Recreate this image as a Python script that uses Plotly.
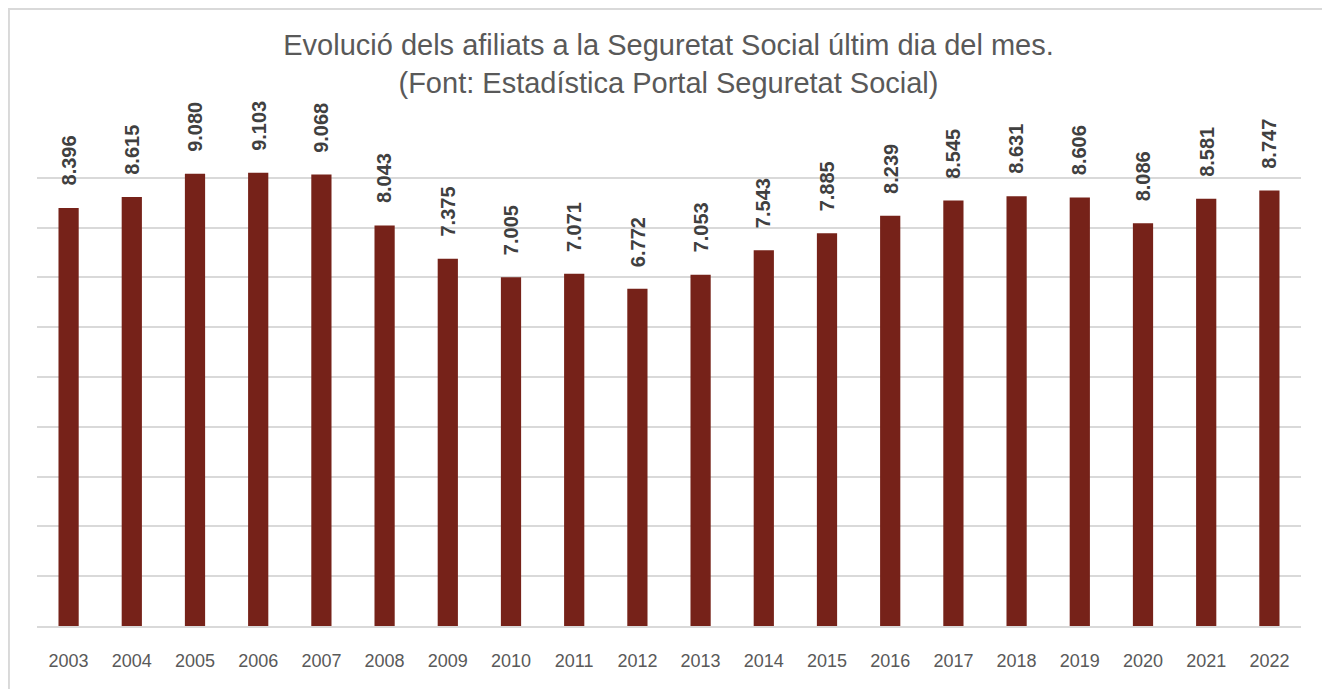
import plotly.graph_objects as go

# ---------------------------------------------------------------------------
# Afiliats a la Seguretat Social (milers)
# ---------------------------------------------------------------------------

anys = ["2003", "2004", "2005", "2006", "2007", "2008", "2009", "2010", "2011", "2012",
        "2013", "2014", "2015", "2016", "2017", "2018", "2019", "2020", "2021", "2022"]
afiliats = [8396, 8615, 9080, 9103, 9068, 8043, 7375, 7005, 7071, 6772,
            7053, 7543, 7885, 8239, 8545, 8631, 8606, 8086, 8581, 8747]
etiquetes = [f"{v / 1000:.3f}" for v in afiliats]

font_family = "Liberation Sans, Arial, sans-serif"
text_color = "#595959"

fig = go.Figure()
fig.add_trace(go.Bar(x=anys, y=afiliats, marker=dict(color="#762219", line=dict(width=0)),
                     hoverinfo="x+y"))

# etiquetes verticals sobre cada barra (x com a index de categoria)
for i, (y, t) in enumerate(zip(afiliats, etiquetes)):
    fig.add_annotation(x=i, y=y, text=f"<b>{t}</b>", textangle=-90, showarrow=False,
                       yanchor="bottom", yshift=20,
                       font=dict(family=font_family, size=20, color="#404040"))

fig.update_layout(
    width=1321, height=681,
    paper_bgcolor="white", plot_bgcolor="white",
    margin=dict(l=29, r=28, t=120, b=63),
    showlegend=False,
    bargap=0.68,
    title=dict(text="Evolució dels afiliats a la Seguretat Social últim dia del mes.<br>(Font: Estadística Portal Seguretat Social)",
               x=0.5, xanchor="center", y=0.931, yanchor="top",
               font=dict(family=font_family, size=29, color=text_color)),
    xaxis=dict(type="category", showline=True, linecolor="#d9d9d9", linewidth=2, ticks="",
               ticklabelstandoff=17,
               tickfont=dict(family=font_family, size=18, color=text_color)),
    yaxis=dict(range=[0, 10000], dtick=1000, showticklabels=False,
               showgrid=True, gridcolor="#d9d9d9", gridwidth=1.5, zeroline=False),
    shapes=[dict(type="rect", xref="paper", yref="paper", x0=-0.0222, x1=1.0214, y0=-0.145, y1=1.239,
                 line=dict(color="#d9d9d9", width=2), layer="below")],
)

fig.write_html("out.html")
